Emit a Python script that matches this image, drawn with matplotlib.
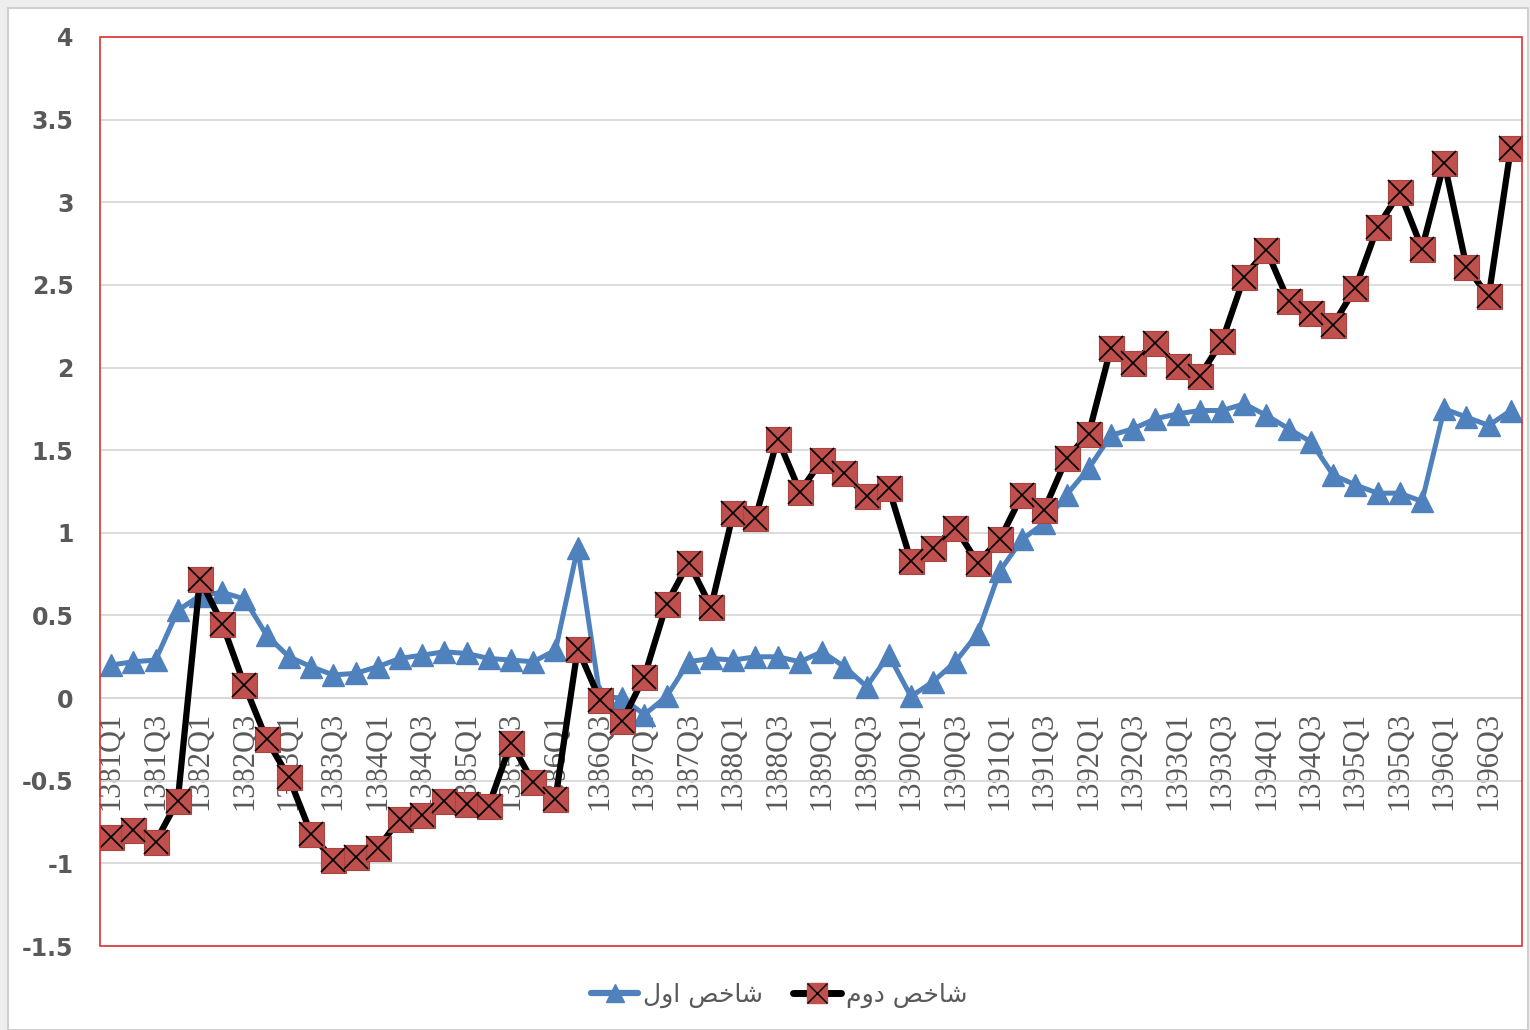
import matplotlib
matplotlib.use("Agg")
import matplotlib.pyplot as plt
from matplotlib.patches import Rectangle
from matplotlib.lines import Line2D
from matplotlib.legend_handler import HandlerTuple

plt.rcParams["font.serif"] = ["Liberation Serif", "DejaVu Serif"]

# ---- data ----
years = list(range(1381, 1397))
quarters = [f"{y}Q{q}" for y in years for q in range(1, 5)]
tick_labels = [q for q in quarters if q.endswith("Q1") or q.endswith("Q3")]

series1 = [0.20, 0.22, 0.23, 0.53, 0.62, 0.64, 0.60, 0.38, 0.25, 0.19,
           0.14, 0.15, 0.19, 0.24, 0.26, 0.28, 0.27, 0.24, 0.23, 0.22,
           0.29, 0.91, 0.01, 0.00, -0.10, 0.01, 0.22, 0.24, 0.23, 0.25,
           0.25, 0.22, 0.28, 0.19, 0.07, 0.26, 0.01, 0.10, 0.22, 0.39,
           0.77, 0.96, 1.06, 1.23, 1.39, 1.59, 1.63, 1.69, 1.72, 1.74,
           1.74, 1.78, 1.71, 1.63, 1.55, 1.35, 1.29, 1.24, 1.24, 1.19,
           1.75, 1.70, 1.65, 1.74]

series2 = [-0.84, -0.80, -0.87, -0.62, 0.72, 0.45, 0.08, -0.25, -0.48, -0.82,
           -0.98, -0.96, -0.91, -0.73, -0.71, -0.62, -0.64, -0.65, -0.27, -0.51,
           -0.61, 0.30, -0.01, -0.14, 0.13, 0.57, 0.82, 0.55, 1.12, 1.09,
           1.57, 1.25, 1.44, 1.36, 1.22, 1.27, 0.83, 0.91, 1.03, 0.82,
           0.96, 1.23, 1.14, 1.45, 1.60, 2.12, 2.03, 2.15, 2.01, 1.95,
           2.16, 2.55, 2.71, 2.40, 2.33, 2.26, 2.48, 2.85, 3.06, 2.72,
           3.24, 2.61, 2.43, 3.33]

# shaped Arabic presentation forms in visual order
name1 = "\uFEDD\uFEED\uFE8D \uFEBA\uFEA7\uFE8E\uFEB7"   # شاخص اول
name2 = "\uFEE1\uFEED\uFEA9 \uFEBA\uFEA7\uFE8E\uFEB7"   # شاخص دوم

y_ticks = [-1.5, -1, -0.5, 0, 0.5, 1, 1.5, 2, 2.5, 3, 3.5, 4]

BLUE = "#4F81BD"
RED = "#C0504D"
GRAY = "#595959"

fig = plt.figure(figsize=(15.3, 10.3), dpi=100)
fig.patch.set_facecolor("#EEEEEE")
fig.patches.append(Rectangle((8 / 1530, 0), 1 - 10 / 1530, 1 - 8 / 1030,
                             transform=fig.transFigure, facecolor="white",
                             edgecolor="#CFCFCF", linewidth=1.5, zorder=-10))

ax = fig.add_axes([100 / 1530, 1 - 946 / 1030, 1422 / 1530, 909 / 1030])
ax.set_zorder(1)
ax.set_facecolor("white")

for s in ["top", "left", "right"]:
    ax.spines[s].set_visible(False)
ax.spines["bottom"].set_position(("data", 0))
ax.spines["bottom"].set_color("#D9D9D9")
ax.spines["bottom"].set_linewidth(1.3)

x = list(range(len(quarters)))

ax.plot(x, series1, color=BLUE, linewidth=3.6, marker="^", markersize=16,
        markerfacecolor=BLUE, markeredgecolor=BLUE, zorder=3)
ax.plot(x, series2, color="black", linewidth=4.5, marker="s", markersize=18,
        markerfacecolor=RED, markeredgecolor="#A84440", markeredgewidth=0.8, zorder=4)
ax.plot(x, series2, linestyle="none", marker="x", markersize=17,
        markeredgecolor="black", markeredgewidth=1.2, zorder=5)

ax.set_xlim(-0.5, 63.5)
ax.set_ylim(-1.5, 4)

ax.tick_params(axis="y", length=0, pad=19)
ax.tick_params(axis="x", length=0, pad=10)

ax.set_yticks(y_ticks)
ax.set_yticklabels([f"{v:g}" for v in y_ticks], fontsize=17, fontweight="bold",
                   color=GRAY, family="DejaVu Sans")
ax.grid(axis="y", color="#D9D9D9", linewidth=1.3, zorder=0)
ax.set_axisbelow(True)

ax.set_xticks([i for i, q in enumerate(quarters) if q in tick_labels])
ax.set_xticklabels(tick_labels, rotation=90, fontsize=22, color=GRAY,
                   family="serif")

ax.add_patch(Rectangle((0, 0), 1, 1, transform=ax.transAxes, fill=False,
                       edgecolor="#E03030", linewidth=1.2, zorder=6, clip_on=False))

h1 = Line2D([], [], color=BLUE, linewidth=4.5, marker="^", markersize=13,
            markerfacecolor=BLUE, markeredgecolor=BLUE, solid_capstyle="round")
h2 = Line2D([], [], color="black", linewidth=5, marker="s", markersize=15,
            markerfacecolor=RED, markeredgecolor=RED, solid_capstyle="round")
h2x = Line2D([], [], linestyle="none", marker="x", markersize=14,
             markeredgecolor="black", markeredgewidth=1.0)
leg = fig.legend([h1, (h2, h2x)], [name1, name2], loc="center",
                 bbox_to_anchor=(779 / 1530, 1 - 995 / 1030), ncol=2,
                 frameon=False, handlelength=1.9, handletextpad=0.2,
                 columnspacing=1.2, labelcolor=GRAY,
                 handler_map={tuple: HandlerTuple(ndivide=1, pad=0)},
                 prop={"family": "DejaVu Sans", "size": 18})

fig.savefig("out.png", dpi=100, facecolor=fig.get_facecolor())
